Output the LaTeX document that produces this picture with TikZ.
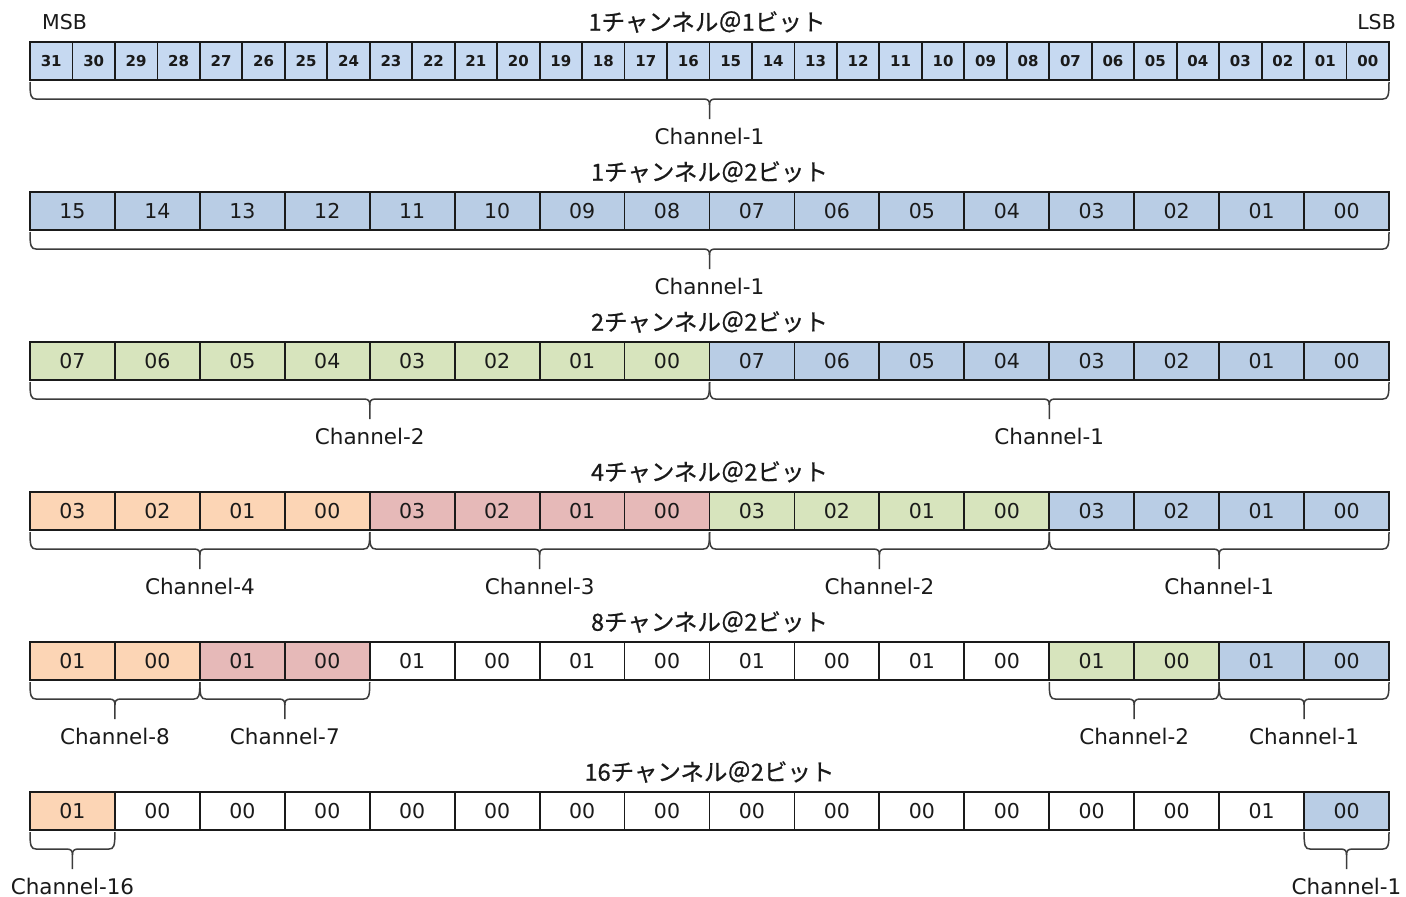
\documentclass[tikz,border=0pt]{standalone}
\usepackage{fontspec}
\setmainfont{DejaVu Sans}
\newfontfamily\jpfont[FakeBold=0.7]{Noto Sans CJK JP}
\usetikzlibrary{calc}

\definecolor{cbluelt}{HTML}{C6D9F1}
\definecolor{cblue}{HTML}{B9CDE5}
\definecolor{cgreen}{HTML}{D7E4BD}
\definecolor{corange}{HTML}{FCD5B5}
\definecolor{cpink}{HTML}{E6B9B8}
\definecolor{ink}{HTML}{1A1A1A}

% two-digit bit index
\newcommand\twod[1]{\ifnum#1<10 0\fi#1}

\tikzset{
  bitcell/.style={draw=ink, line width=1.8pt, minimum height=38pt,
    minimum width=84.94pt, inner sep=0pt, outer sep=0pt, anchor=north west,
    text=ink, font=\fontsize{20.5}{20.5}\selectfont},
  bitsmall/.style={minimum width=42.47pt, font=\fontsize{15}{15}\selectfont\bfseries},
  rowtitle/.style={text=ink, inner sep=0pt, font=\jpfont\fontsize{23.5}{23.5}\selectfont},
  chlabel/.style={text=ink, inner sep=0pt, font=\fontsize{21.5}{21.5}\selectfont},
  endlabel/.style={text=ink, inner sep=0pt, font=\fontsize{20.5}{20.5}\selectfont},
  bracestyle/.style={draw=ink!85, line width=1.5pt},
}

% curly brace under a run of cells, from cell #1 to cell #2, with label #3 (node #4)
\newcommand\chbrace[4]{%
  \coordinate (#4-L) at (#1.south west);
  \coordinate (#4-R) at (#2.south east);
  \coordinate (#4-M) at ($(#4-L)!0.5!(#4-R)$);
  \draw[bracestyle]
    ($(#4-L)+(0,2)$) .. controls ($(#4-L)+(0,16)$) and ($(#4-L)+(1,19)$) .. ($(#4-L)+(6,19)$)
    -- ($(#4-M)+(-6,19)$) .. controls ($(#4-M)+(-1,19)$) and ($(#4-M)+(0,21)$) .. ($(#4-M)+(0,25)$)
    -- ($(#4-M)+(0,39)$);
  \draw[bracestyle]
    ($(#4-M)+(0,25)$) .. controls ($(#4-M)+(0,21)$) and ($(#4-M)+(1,19)$) .. ($(#4-M)+(6,19)$)
    -- ($(#4-R)+(-6,19)$) .. controls ($(#4-R)+(-1,19)$) and ($(#4-R)+(0,16)$) .. ($(#4-R)+(0,2)$);
  \node[chlabel] (#4) at ($(#4-M)+(0,56)$) {#3};
}

\begin{document}
\begin{tikzpicture}[x=1pt, y=-1pt]
  \useasboundingbox[fill=white] (0,0) rectangle (1406,897);

  % ---------- row 1: one channel, 1 bit per sample ----------
  \node[endlabel, anchor=west] (msb) at (42,22) {MSB};
  \node[endlabel, anchor=east] (lsb) at (1396,22) {LSB};
  \node[rowtitle] (t1) at (707,22) {1チャンネル＠1ビット};
  \foreach \i in {1,...,32}{
    \pgfmathtruncatemacro\n{32-\i}
    \node[bitcell, bitsmall, fill=cbluelt] (r1-c\i) at ({30+(\i-1)*42.46875},42) {\twod{\n}};
  }
  \chbrace{r1-c1}{r1-c32}{Channel-1}{l1a}

  % ---------- row 2: one channel, 2 bits ----------
  \node[rowtitle] (t2) at (709.5,172) {1チャンネル＠2ビット};
  \foreach \i in {1,...,16}{
    \pgfmathtruncatemacro\n{16-\i}
    \node[bitcell, fill=cblue] (r2-c\i) at ({30+(\i-1)*84.9375},192) {\twod{\n}};
  }
  \chbrace{r2-c1}{r2-c16}{Channel-1}{l2a}

  % ---------- row 3: two channels ----------
  \node[rowtitle] (t3) at (709.5,322) {2チャンネル＠2ビット};
  \foreach \i in {1,...,16}{
    \pgfmathtruncatemacro\n{mod(16-\i,8)}
    \ifnum\i<9 \def\cc{cgreen}\else\def\cc{cblue}\fi
    \node[bitcell, fill=\cc] (r3-c\i) at ({30+(\i-1)*84.9375},342) {\twod{\n}};
  }
  \chbrace{r3-c1}{r3-c8}{Channel-2}{l3b}
  \chbrace{r3-c9}{r3-c16}{Channel-1}{l3a}

  % ---------- row 4: four channels ----------
  \node[rowtitle] (t4) at (709.5,472) {4チャンネル＠2ビット};
  \foreach \i in {1,...,16}{
    \pgfmathtruncatemacro\n{mod(16-\i,4)}
    \ifnum\i<5 \def\cc{corange}\else
      \ifnum\i<9 \def\cc{cpink}\else
        \ifnum\i<13 \def\cc{cgreen}\else\def\cc{cblue}\fi\fi\fi
    \node[bitcell, fill=\cc] (r4-c\i) at ({30+(\i-1)*84.9375},492) {\twod{\n}};
  }
  \chbrace{r4-c1}{r4-c4}{Channel-4}{l4d}
  \chbrace{r4-c5}{r4-c8}{Channel-3}{l4c}
  \chbrace{r4-c9}{r4-c12}{Channel-2}{l4b}
  \chbrace{r4-c13}{r4-c16}{Channel-1}{l4a}

  % ---------- row 5: eight channels ----------
  \node[rowtitle] (t5) at (709.5,622) {8チャンネル＠2ビット};
  \foreach \i in {1,...,16}{
    \pgfmathtruncatemacro\n{mod(16-\i,2)}
    \ifnum\i<3 \def\cc{corange}\else
      \ifnum\i<5 \def\cc{cpink}\else
        \ifnum\i<13 \def\cc{white}\else
          \ifnum\i<15 \def\cc{cgreen}\else\def\cc{cblue}\fi\fi\fi\fi
    \node[bitcell, fill=\cc] (r5-c\i) at ({30+(\i-1)*84.9375},642) {\twod{\n}};
  }
  \chbrace{r5-c1}{r5-c2}{Channel-8}{l5h}
  \chbrace{r5-c3}{r5-c4}{Channel-7}{l5g}
  \chbrace{r5-c13}{r5-c14}{Channel-2}{l5b}
  \chbrace{r5-c15}{r5-c16}{Channel-1}{l5a}

  % ---------- row 6: sixteen channels ----------
  \node[rowtitle] (t6) at (709.5,772) {16チャンネル＠2ビット};
  \foreach \i in {1,...,16}{
    \ifnum\i=1 \def\n{1}\else\ifnum\i=15 \def\n{1}\else\def\n{0}\fi\fi
    \ifnum\i=1 \def\cc{corange}\else\ifnum\i=16 \def\cc{cblue}\else\def\cc{white}\fi\fi
    \node[bitcell, fill=\cc] (r6-c\i) at ({30+(\i-1)*84.9375},792) {\twod{\n}};
  }
  \chbrace{r6-c1}{r6-c1}{Channel-16}{l6p}
  \chbrace{r6-c16}{r6-c16}{Channel-1}{l6a}
\end{tikzpicture}
\end{document}
